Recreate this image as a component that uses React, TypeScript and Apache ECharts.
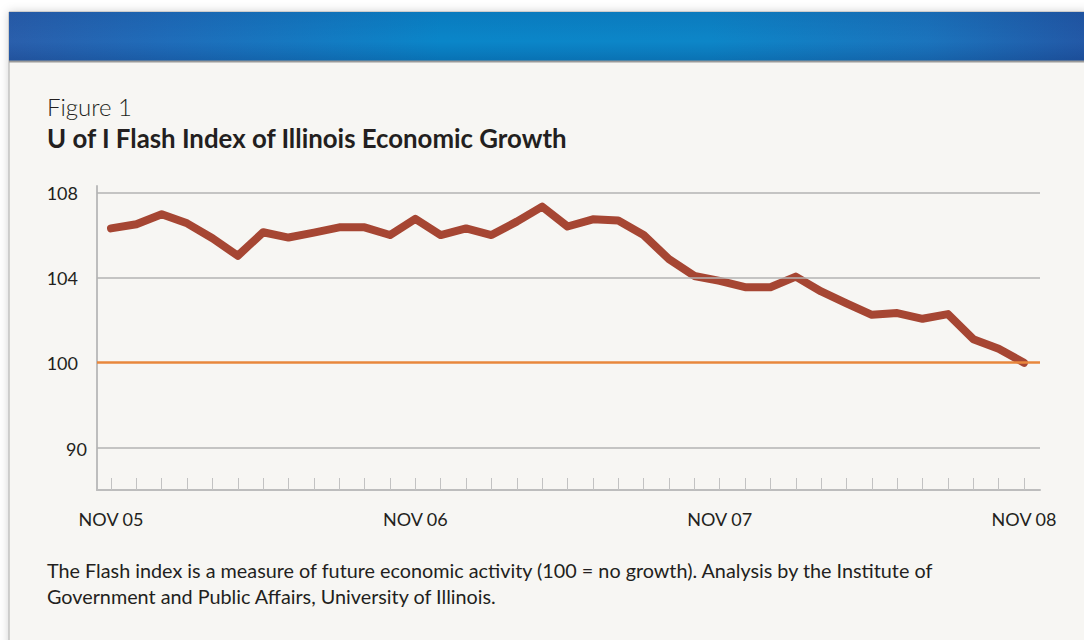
import React, { useEffect, useRef } from "react";
import * as echarts from "echarts";

const monthIndex: number[] = Array.from({ length: 37 }, (_, i) => i);
const flashIndex: number[] = [
  106.33, 106.53, 107.0, 106.57, 105.87, 105.04, 106.15, 105.9, 106.13, 106.38,
  106.38, 106.02, 106.78, 106.02, 106.33, 106.02, 106.65, 107.36, 106.42, 106.76,
  106.7, 106.02, 104.88, 104.09, 103.86, 103.56, 103.56, 104.06, 103.36, 102.8,
  102.26, 102.34, 102.07, 102.29, 101.11, 100.66, 100.0,
];
const xLabelValues: number[] = [0, 12, 24, 36];
const xLabels: string[] = ["NOV 05", "NOV 06", "NOV 07", "NOV 08"];
const yTickValues: number[] = [96, 100, 104, 108];
const yTickLabels: string[] = ["90", "100", "104", "108"];
const gridValues: number[] = [108, 104, 96];
const baselineValue = 100;

const FONT = "Lato, 'Noto Sans', sans-serif";
const INK = "#231f20";

export default function App() {
  const ref = useRef<HTMLDivElement>(null);
  useEffect(() => {
    if (!ref.current) return;
    const chart = echarts.init(ref.current, null, { renderer: "svg" });
    const data = monthIndex.map((m, i) => [m, flashIndex[i]]);
    chart.setOption({
      animation: false,
      backgroundColor: "#ffffff",
      graphic: [
        {
          type: "rect",
          z: -10,
          shape: { x: 9, y: 12, width: 1080, height: 640 },
          style: { fill: "#f7f6f3", stroke: "#a9a9a9", lineWidth: 1, shadowBlur: 10, shadowColor: "rgba(0,0,0,0.18)" },
        },
        {
          type: "rect",
          z: -9,
          shape: { x: 9, y: 12, width: 1080, height: 49 },
          style: {
            fill: new echarts.graphic.LinearGradient(0, 0, 1, 0, [
              { offset: 0, color: "#2a5fac" },
              { offset: 0.15, color: "#1f6dba" },
              { offset: 0.4, color: "#0a86c9" },
              { offset: 0.65, color: "#0d86c8" },
              { offset: 0.85, color: "#1b74bd" },
              { offset: 1, color: "#2358a6" },
            ]),
          },
        },
        {
          type: "rect",
          z: -8,
          shape: { x: 9, y: 12, width: 1080, height: 49 },
          style: {
            fill: new echarts.graphic.LinearGradient(0, 0, 0, 1, [
              { offset: 0, color: "rgba(0,40,110,0.12)" },
              { offset: 0.6, color: "rgba(0,40,110,0)" },
              { offset: 1, color: "rgba(0,30,90,0.2)" },
            ]),
          },
        },
        {
          type: "line",
          z: -7,
          shape: { x1: 9, y1: 61.5, x2: 1084, y2: 61.5 },
          style: { stroke: "#9a9a9a", lineWidth: 2 },
        },
        {
          type: "text",
          left: 47,
          top: 94,
          style: { text: "Figure 1", font: `300 24px ${FONT}`, fill: INK },
        },
        {
          type: "text",
          left: 47,
          top: 125,
          style: { text: "U of I Flash Index of Illinois Economic Growth", font: `bold 25.8px ${FONT}`, fill: INK },
        },
        {
          type: "text",
          left: 47,
          top: 557,
          style: {
            text:
              "The Flash index is a measure of future economic activity (100 = no growth). Analysis by the Institute of\nGovernment and Public Affairs, University of Illinois.",
            font: `19.8px ${FONT}`,
            lineHeight: 26,
            fill: INK,
          },
        },
      ],
      grid: { left: 97, right: 44, top: 186, bottom: 150, containLabel: false },
      xAxis: {
        type: "value",
        min: -0.552,
        max: 36.63,
        splitLine: { show: false },
        axisLine: { show: true, onZero: false, lineStyle: { color: "#bdbdbd", width: 2 } },
        axisTick: {
          show: true,
          inside: true,
          length: 12,
          customValues: monthIndex,
          lineStyle: { color: "#c2c2c2", width: 1 },
        },
        axisLabel: {
          customValues: xLabelValues,
          formatter: (v: number) => xLabels[xLabelValues.indexOf(Math.round(v))] ?? "",
          margin: 20,
          fontFamily: FONT,
          fontSize: 18,
          color: INK,
        },
      },
      yAxis: {
        type: "value",
        min: 94,
        max: 108.33,
        splitLine: { show: false },
        axisLine: { show: true, onZero: false, lineStyle: { color: "#bdbdbd", width: 2 } },
        axisTick: { show: false },
        axisLabel: {
          customValues: yTickValues,
          formatter: (v: number) => {
            const idx = yTickValues.indexOf(Math.round(v));
            if (idx < 0) return "";
            return idx === 0 ? `{n|${yTickLabels[idx]}}` : `{a|${yTickLabels[idx]}}`;
          },
          margin: 10,
          rich: {
            a: { fontFamily: FONT, fontSize: 18, color: INK, padding: [0, 9, 0, 0] },
            n: { fontFamily: FONT, fontSize: 18, color: INK, padding: [3, 0, 0, 0] },
          },
        },
      },
      series: [
        {
          type: "line",
          z: 1,
          data: [],
          silent: true,
          markLine: {
            silent: true,
            symbol: "none",
            label: { show: false },
            emphasis: { disabled: true },
            data: [
              ...gridValues.map((v) => ({ yAxis: v, lineStyle: { color: "#b3b3b3", width: 1.5, type: "solid" } })),
              { yAxis: baselineValue, lineStyle: { color: "#e8873c", width: 2.5, type: "solid" } },
            ],
          },
        },
        {
          type: "line",
          z: 3,
          data,
          showSymbol: false,
          symbol: "none",
          lineStyle: { color: "#a64633", width: 8, cap: "round", join: "round" },
        },
      ],
    });
    return () => chart.dispose();
  }, []);
  return (
    <div
      ref={ref}
      style={{ position: "fixed", left: 0, top: 0, width: 1084, height: 640, background: "#ffffff" }}
    />
  );
}
